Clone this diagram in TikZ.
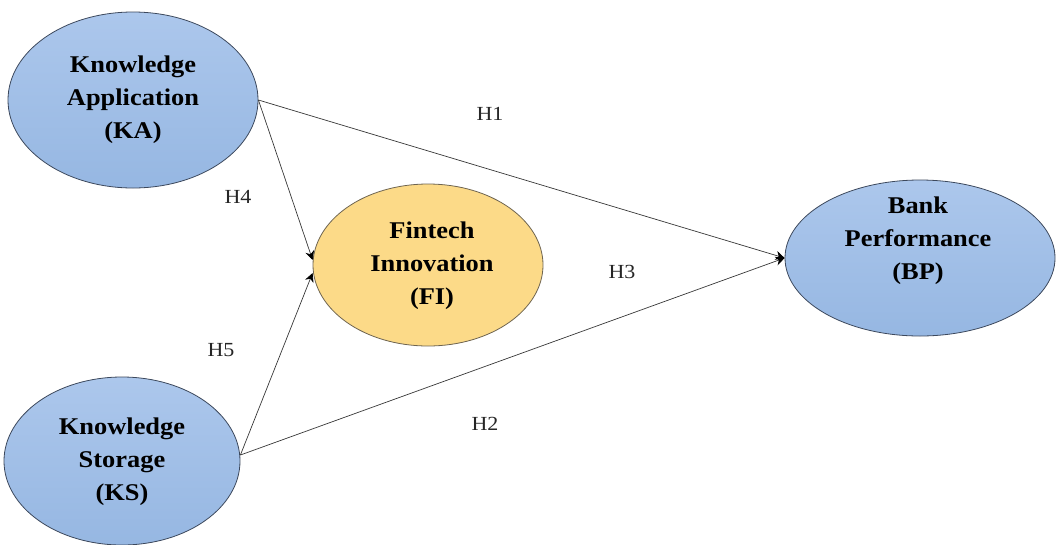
\documentclass[tikz,border=0pt]{standalone}
\usepackage{fontspec}
\setmainfont[FakeStretch=1.1]{Liberation Serif}
\usetikzlibrary{shapes.geometric,arrows.meta,calc}
\definecolor{blueA}{RGB}{172,199,236}
\definecolor{blueB}{RGB}{150,183,226}
\definecolor{blueEdge}{RGB}{60,72,92}
\definecolor{yelFill}{RGB}{252,218,136}
\definecolor{yelEdge}{RGB}{110,100,80}
\definecolor{lineC}{RGB}{55,55,55}
\tikzset{
  bluebub/.style={ellipse, draw=blueEdge, line width=0.8pt, top color=blueA, bottom color=blueB, inner sep=0pt},
  yelbub/.style={ellipse, draw=yelEdge, line width=0.8pt, fill=yelFill, inner sep=0pt},
  bubtext/.style={align=center, font=\fontsize{24}{33}\selectfont\bfseries, text=black},
  hlab/.style={font=\fontsize{20}{24}\selectfont, text=black!85},
  conn/.style={draw=lineC, line width=0.7pt, -{Stealth[length=9pt,width=9pt,color=black,fill=black]}}
}
\begin{document}
\begin{tikzpicture}[x=1pt,y=-1pt]
\useasboundingbox (0,0) rectangle (1056,544);
\node[bluebub, minimum width=250pt, minimum height=176pt] (KA) at (133,100) {};
\node[bubtext] (KAt) at (133,100) {Knowledge\\Application\\(KA)};
\node[yelbub, minimum width=230pt, minimum height=162pt] (FI) at (428,265) {};
\node[bubtext] (FIt) at (432,266) {Fintech\\Innovation\\(FI)};
\node[bluebub, minimum width=270pt, minimum height=156pt] (BP) at (920,258) {};
\node[bubtext] (BPt) at (918,241) {Bank\\Performance\\(BP)};
\node[bluebub, minimum width=236pt, minimum height=168pt] (KS) at (122,461) {};
\node[bubtext] (KSt) at (122,462) {Knowledge\\Storage\\(KS)};
\coordinate (fiA) at ($(FI.west)+(0,-5)$);
\coordinate (fiB) at ($(FI.west)+(0,8)$);
\coordinate (ksE) at ($(KS.east)+(0,-6)$);
\draw[conn] (KA.east) -- (BP.west);
\draw[conn] (KA.east) -- (fiA);
\draw[conn] (ksE) -- (fiB);
\draw[conn] (ksE) -- (BP.west);
\node[hlab] (H1) at (490,114) {H1};
\node[hlab] (H4) at (238,197) {H4};
\node[hlab] (H3) at (622,272) {H3};
\node[hlab] (H5) at (221,350) {H5};
\node[hlab] (H2) at (485,424) {H2};
\end{tikzpicture}
\end{document}
